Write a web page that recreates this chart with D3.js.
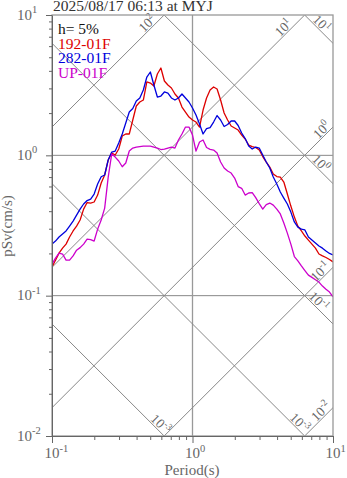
<!DOCTYPE html>
<html><head><meta charset="utf-8">
<script src="https://cdn.jsdelivr.net/npm/d3@7"></script>
<style>body{margin:0;background:#fff}svg{display:block;font-family:"Liberation Serif","Times New Roman",serif}</style>
</head><body><svg id="c" width="347" height="478"></svg>
<script>
// ---- data ----
const periods = [0.1,0.1059,0.1122,0.1189,0.1259,0.1334,0.1413,0.1496,0.1585,0.1679,0.1778,0.1884,0.1995,0.2113,0.2239,0.2371,0.2512,0.2661,0.2818,0.2985,0.3162,0.3350,0.3548,0.3758,0.3981,0.4217,0.4467,0.4732,0.5012,0.5309,0.5623,0.5957,0.6310,0.6683,0.7079,0.7499,0.7943,0.8414,0.8913,0.9441,1.0,1.059,1.122,1.189,1.259,1.334,1.413,1.496,1.585,1.679,1.778,1.884,1.995,2.113,2.239,2.371,2.512,2.661,2.818,2.985,3.162,3.350,3.548,3.758,3.981,4.217,4.467,4.732,5.012,5.309,5.623,5.957,6.310,6.683,7.079,7.499,7.943,8.414,8.913,9.441,10.0];
const sv192 = [0.160,0.179,0.201,0.218,0.233,0.262,0.289,0.313,0.346,0.414,0.461,0.457,0.465,0.521,0.635,0.724,0.926,1.038,1.005,1.109,1.373,1.419,1.419,1.785,2.246,2.398,2.479,3.331,3.276,3.118,3.798,4.191,3.386,3.171,3.018,2.735,2.562,2.210,2.035,1.875,1.785,1.727,1.591,2.103,2.562,2.921,3.068,2.969,2.479,2.002,1.785,1.617,1.565,1.515,1.395,1.307,1.184,1.155,1.137,1.091,0.980,0.896,0.825,0.736,0.706,0.700,0.645,0.530,0.435,0.363,0.313,0.289,0.266,0.249,0.233,0.218,0.198,0.192,0.187,0.181,0.174];
const sv282 = [0.233,0.245,0.262,0.275,0.289,0.313,0.340,0.375,0.414,0.450,0.476,0.488,0.530,0.624,0.704,0.724,0.926,1.056,1.073,1.224,1.419,1.699,2.035,2.156,2.438,2.562,2.921,3.615,3.925,3.171,2.604,2.647,2.827,2.780,2.562,2.479,2.562,2.735,2.562,2.398,2.174,1.938,1.672,1.419,1.552,1.578,1.727,1.921,1.785,1.604,1.658,1.756,1.756,1.631,1.442,1.317,1.165,1.109,1.146,1.127,1.005,0.896,0.812,0.700,0.624,0.548,0.496,0.450,0.394,0.335,0.308,0.298,0.294,0.262,0.249,0.237,0.226,0.218,0.208,0.200,0.195];
const svUP = [0.168,0.185,0.201,0.198,0.179,0.179,0.192,0.211,0.220,0.233,0.253,0.251,0.245,0.298,0.346,0.421,0.700,1.022,0.972,0.911,0.829,0.881,1.073,1.127,1.146,1.155,1.165,1.165,1.165,1.146,1.127,1.100,1.109,1.127,1.146,1.127,1.286,1.419,1.591,1.591,1.395,1.073,1.244,1.286,1.137,1.103,1.091,1.038,0.896,0.812,0.773,0.748,0.689,0.599,0.582,0.521,0.539,0.543,0.500,0.453,0.414,0.446,0.457,0.442,0.414,0.382,0.329,0.279,0.233,0.190,0.177,0.163,0.151,0.140,0.135,0.130,0.125,0.117,0.111,0.106,0.098];
const seriesNames = ["192-01F","282-01F","UP-01F"];
const titleText = "2025/08/17 06:13 at MYJ";
const dampingText = "h= 5%";
const accelLevels = [100,10,1,0.1,0.01];      // cm/s^2 lines
const accelLabelExp = ["2","1","0","-1","-2"];
const dispLevels = [10,1,0.1,0.01,0.001];     // cm lines
const dispLabelExp = ["1","0","-1","-3","-3"];
const yMajor = [10,1,0.1,0.01];
const yMajorExp = ["1","0","-1","-2"];
const xMajor = [0.1,1,10];
const xMajorExp = ["-1","0","1"];

// ---- layout / style ----
const L=52,R=333,T=15,B=436;
const colors = ["#dd0000","#0000dd","#cc00cc"];
const accelB = [18,24,10,12,11];
const dispB = [22,23,26,13,11];
const grey="#666";

const svg=d3.select("#c");
const x=d3.scaleLog().domain([0.1,10]).range([L,R]);
const y=d3.scaleLog().domain([0.01,10]).range([B,T]);
svg.append("defs").append("clipPath").attr("id","clip").append("rect")
  .attr("x",L).attr("y",T).attr("width",R-L).attr("height",B-T);
const g=svg.append("g").attr("clip-path","url(#clip)");

// grid
[1,0.1].forEach(v=>g.append("line").attr("x1",L).attr("x2",R).attr("y1",y(v)).attr("y2",y(v))
  .attr("stroke","#888").attr("stroke-width",1));
g.append("line").attr("x1",x(1)).attr("x2",x(1)).attr("y1",T).attr("y2",B).attr("stroke","#999").attr("stroke-width",1.3);

const line=d3.line().x(d=>x(d[0])).y(d=>y(d[1]));
const TP=2*Math.PI;
function powText(sel, exp, sfs, dy){
  sel.append("tspan").text("10");
  sel.append("tspan").attr("font-size",sfs).attr("dy",dy).text(exp);
}
const labG=svg.append("g");
accelLevels.forEach((a,i)=>{
  const tlo=Math.max(0.1,TP*0.01/a), thi=Math.min(10,TP*10/a);
  if(tlo>=thi) return;
  const pts=[[tlo,a*tlo/TP],[thi,a*thi/TP]];
  g.append("path").attr("d",line(pts)).attr("fill","none").attr("stroke","#888").attr("stroke-width",1);
  const ex=x(pts[1][0]), ey=y(pts[1][1]);
  const b=accelB[i], s=Math.SQRT1_2;
  const cx=ex-b*s-6*s, cy=ey+b*s-6*s;
  const t=labG.append("text").attr("transform",`translate(${cx},${cy}) rotate(-45)`)
    .attr("text-anchor","middle").attr("y",4.5).attr("font-size",13.5).attr("fill",grey);
  powText(t,accelLabelExp[i],9.5,-5.5);
});
dispLevels.forEach((dd,i)=>{
  const tlo=Math.max(0.1,TP*dd/10), thi=Math.min(10,TP*dd/0.01);
  if(tlo>=thi) return;
  const pts=[[tlo,TP*dd/tlo],[thi,TP*dd/thi]];
  g.append("path").attr("d",line(pts)).attr("fill","none").attr("stroke","#888").attr("stroke-width",1);
  const ex=x(pts[1][0]), ey=y(pts[1][1]);
  const b=dispB[i], s=Math.SQRT1_2;
  const cx=ex-b*s+6*s, cy=ey-b*s-6*s;
  const t=labG.append("text").attr("transform",`translate(${cx},${cy}) rotate(45)`)
    .attr("text-anchor","middle").attr("y",4.5).attr("font-size",13.5).attr("fill",grey);
  powText(t,dispLabelExp[i],9.5,-5.5);
});

// series
[sv192,sv282,svUP].forEach((s,k)=>{
  g.append("path").datum(periods.map((p,i)=>[p,s[i]])).attr("d",line)
    .attr("fill","none").attr("stroke",colors[k]).attr("stroke-width",1.3).attr("stroke-linejoin","round");
});

// frame
svg.append("rect").attr("x",L).attr("y",T).attr("width",R-L).attr("height",B-T)
  .attr("fill","none").attr("stroke","#999").attr("stroke-width",1.3);

// axes
function minors(lo,hi){const r=[];for(let e=lo;e<hi;e++)for(let m=1;m<10;m++)r.push(m*Math.pow(10,e));r.push(Math.pow(10,hi));return r;}
const isMaj=(arr,d)=>arr.some(v=>Math.abs(v-d)<1e-9);
const yAx=svg.append("g").attr("transform",`translate(${L},0)`)
  .call(d3.axisLeft(y).tickValues(minors(-2,1)).tickFormat("").tickSizeOuter(0));
yAx.select(".domain").attr("stroke",grey);
yAx.selectAll(".tick line").attr("stroke",grey).attr("x1",d=>isMaj(yMajor,d)?0:1).attr("x2",d=>isMaj(yMajor,d)?-6:-3);
const xAx=svg.append("g").attr("transform",`translate(0,${B})`)
  .call(d3.axisBottom(x).tickValues(minors(-1,1)).tickFormat("").tickSizeOuter(0));
xAx.select(".domain").attr("stroke",grey);
xAx.selectAll(".tick line").attr("stroke",grey).attr("y2",d=>isMaj(xMajor,d)?7:4);

yMajor.forEach((v,i)=>{
  const t=svg.append("text").attr("x",17).attr("y",y(v)+4.5).attr("font-size",15).attr("fill",grey);
  powText(t,yMajorExp[i],10.5,-6.5);
});
xMajor.forEach((v,i)=>{
  const t=svg.append("text").attr("x",x(v)-7.5).attr("y",458).attr("font-size",15).attr("fill",grey);
  powText(t,xMajorExp[i],10.5,-6.5);
});
svg.append("text").attr("x",192).attr("y",475).attr("text-anchor","middle").attr("font-size",15).attr("fill",grey).text("Period(s)");
svg.append("text").attr("transform","translate(12,226) rotate(-90)").attr("text-anchor","middle").attr("font-size",15).attr("fill",grey).text("pSv(cm/s)");

svg.append("text").attr("x",53).attr("y",11).attr("font-size",15.5).attr("fill","#333").text(titleText);
svg.append("text").attr("x",58).attr("y",34).attr("font-size",15.5).attr("fill","#111").text(dampingText);
seriesNames.forEach((n,k)=>svg.append("text").attr("x",58).attr("y",48.7+k*14.7).attr("font-size",15.5).attr("fill",colors[k]).text(n));
</script></body></html>
